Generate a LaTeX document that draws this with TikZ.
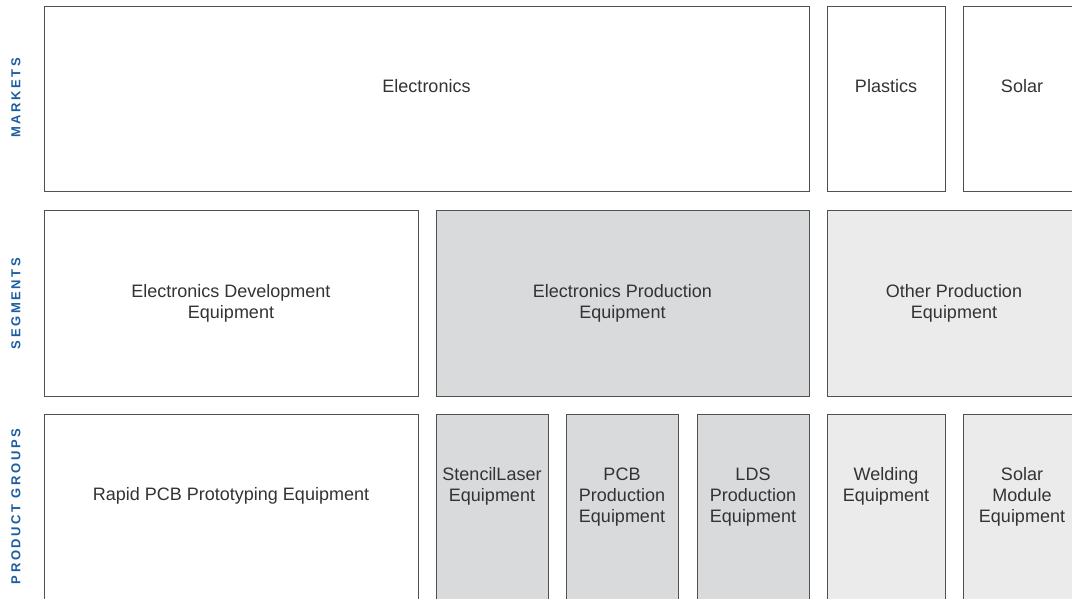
\documentclass[tikz,border=0pt]{standalone}
\usepackage{fontspec}
\setmainfont{Liberation Sans}
\newfontfamily\lblfont[LetterSpace=20]{Liberation Sans}
\definecolor{boxline}{RGB}{80,80,80}
\definecolor{txtcol}{RGB}{51,51,51}
\definecolor{lblblue}{RGB}{28,94,160}
\definecolor{grayA}{RGB}{217,218,220}
\definecolor{grayB}{RGB}{235,235,235}
\tikzset{
  box/.style={draw=boxline, line width=0.9pt, inner sep=0pt, outer sep=0pt, anchor=north west},
  txt/.style={text=txtcol, font=\fontsize{18}{21}\selectfont, inner sep=0pt, anchor=base},
  lbl/.style={text=lblblue, font=\lblfont\bfseries\fontsize{13}{15}\selectfont, inner sep=0pt, rotate=90}
}
\newcommand{\ml}[1]{\begin{tabular}[t]{@{}c@{}}#1\end{tabular}}
\begin{document}
\begin{tikzpicture}[x=1pt,y=-1pt]
\useasboundingbox (0,0) rectangle (1072,598);
\fill[white] (0,0) rectangle (1072,598);
\begin{scope}
\clip (0,0) rectangle (1072,598);
% row 1: markets
\node[box, fill=white, minimum width=765pt, minimum height=185pt] (elec) at (44,6) {};
\node[box, fill=white, minimum width=118pt, minimum height=185pt] (plast) at (827,6) {};
\node[box, fill=white, minimum width=118pt, minimum height=185pt] (solar) at (963,6) {};
% row 2: segments
\node[box, fill=white, minimum width=374pt, minimum height=186pt] (edev) at (44,210) {};
\node[box, fill=grayA, minimum width=373pt, minimum height=186pt] (eprod) at (436,210) {};
\node[box, fill=grayB, minimum width=254pt, minimum height=186pt] (oprod) at (827,210) {};
% row 3: product groups
\node[box, fill=white, minimum width=374pt, minimum height=200pt] (rapid) at (44,414) {};
\node[box, fill=grayA, minimum width=112pt, minimum height=200pt] (stencil) at (436,414) {};
\node[box, fill=grayA, minimum width=112pt, minimum height=200pt] (pcb) at (566,414) {};
\node[box, fill=grayA, minimum width=112pt, minimum height=200pt] (lds) at (697,414) {};
\node[box, fill=grayB, minimum width=118pt, minimum height=200pt] (weld) at (827,414) {};
\node[box, fill=grayB, minimum width=118pt, minimum height=200pt] (solmod) at (963,414) {};
\end{scope}
% texts
\node[txt] (t-elec) at (426.5,92) {Electronics};
\node[txt] (t-plast) at (886,92) {Plastics};
\node[txt] (t-solar) at (1022,92) {Solar};
\node[txt] (t-edev) at (231,297) {\ml{Electronics Development\\Equipment}};
\node[txt] (t-eprod) at (622.5,297) {\ml{Electronics Production\\Equipment}};
\node[txt] (t-oprod) at (954,297) {\ml{Other Production\\Equipment}};
\node[txt] (t-rapid) at (231,500) {Rapid PCB Prototyping Equipment};
\node[txt] (t-stencil) at (492,480) {\ml{StencilLaser\\Equipment}};
\node[txt] (t-pcb) at (622,480) {\ml{PCB\\Production\\Equipment}};
\node[txt] (t-lds) at (753,480) {\ml{LDS\\Production\\Equipment}};
\node[txt] (t-weld) at (886,480) {\ml{Welding\\Equipment}};
\node[txt] (t-solmod) at (1022,480) {\ml{Solar\\Module\\Equipment}};
% side labels
\node[lbl] (l-markets) at (16,98) {MARKETS};
\node[lbl] (l-segments) at (16,303.5) {SEGMENTS};
\node[lbl] (l-groups) at (16,506.5) {PRODUCT GROUPS};
\end{tikzpicture}
\end{document}
